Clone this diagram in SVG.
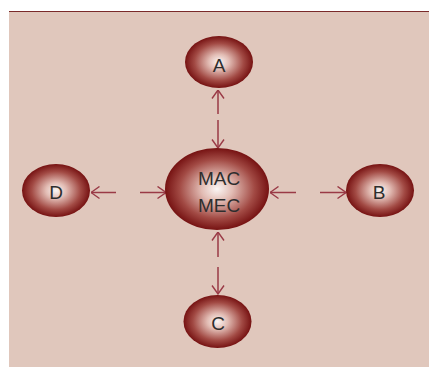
<svg xmlns="http://www.w3.org/2000/svg" width="429" height="367" viewBox="0 0 429 367">
<defs>
<radialGradient id="g" cx="50%" cy="50%" r="50%">
<stop offset="0" stop-color="#fbf6f4"/>
<stop offset="0.3" stop-color="#e2bcb4"/>
<stop offset="0.72" stop-color="#a24a44"/>
<stop offset="1" stop-color="#761212"/>
</radialGradient>
<marker id="ah" viewBox="0 0 10 14" refX="9.5" refY="7" markerWidth="10" markerHeight="14" markerUnits="userSpaceOnUse" orient="auto">
<path d="M1,1 L9.5,7 L1,13" fill="none" stroke="#9a3a46" stroke-width="1.4"/>
</marker>
<style>
.n{fill:url(#g)}
.t{font-family:"Liberation Sans",Arial,sans-serif;font-size:19px;fill:#2e2e2e;text-anchor:middle}
.c{stroke:#9a3a46;stroke-width:1.5;fill:none;marker-end:url(#ah)}
</style>
</defs>
<rect x="9" y="11" width="420" height="356" fill="#e0c7bc"/>
<line x1="9" y1="11.5" x2="429" y2="11.5" stroke="#7a2a2a" stroke-width="1.2"/>
<g id="connectors">
<line class="c" x1="218" y1="114" x2="218" y2="90"/>
<line class="c" x1="218" y1="120" x2="218" y2="148"/>
<line class="c" x1="218" y1="257" x2="218" y2="232"/>
<line class="c" x1="218" y1="267" x2="218" y2="294"/>
<line class="c" x1="116" y1="192.5" x2="91" y2="192.5"/>
<line class="c" x1="140" y1="192.5" x2="166" y2="192.5"/>
<line class="c" x1="296" y1="192.5" x2="270" y2="192.5"/>
<line class="c" x1="320" y1="192.5" x2="346" y2="192.5"/>
</g>
<g id="center">
<ellipse class="n" cx="217" cy="189" rx="52" ry="41"/>
<text class="t" x="219" y="185">MAC</text>
<text class="t" x="219" y="212">MEC</text>
</g>
<g id="A">
<ellipse class="n" cx="219" cy="62" rx="34" ry="26"/>
<text class="t" x="219" y="72">A</text>
</g>
<g id="B">
<ellipse class="n" cx="380" cy="190.5" rx="34" ry="26.5"/>
<text class="t" x="379" y="199">B</text>
</g>
<g id="C">
<ellipse class="n" cx="217.5" cy="321.5" rx="34" ry="26.5"/>
<text class="t" x="218" y="330">C</text>
</g>
<g id="D">
<ellipse class="n" cx="56" cy="190.5" rx="34" ry="26.5"/>
<text class="t" x="56" y="199">D</text>
</g>
</svg>
